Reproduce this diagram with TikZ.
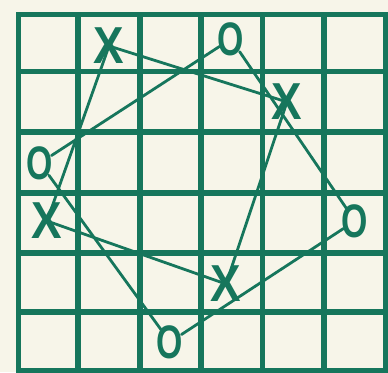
\documentclass[tikz,border=0pt]{standalone}
\usepackage{fontspec}
\usetikzlibrary{shapes.geometric}
\newfontfamily\xmarkfont[FakeStretch=0.88]{Liberation Sans}
\newfontfamily\omarkfont[FakeStretch=0.72]{Liberation Sans}
\definecolor{grn}{RGB}{22,118,92}
\definecolor{paper}{RGB}{247,245,233}
\begin{document}
\begin{tikzpicture}[x=1pt,y=-1pt,
  gridline/.style={draw=grn, line width=5.5pt, line cap=rect},
  link/.style={draw=grn, line width=2.8pt, line cap=round},
  xmark/.style={text=grn, inner sep=0pt, font=\xmarkfont\bfseries\fontsize{52}{52}\selectfont},
  omark/.style={ellipse, inner sep=0pt, minimum width=25pt, minimum height=34pt,
    label={[text=grn, inner sep=0pt, font=\omarkfont\bfseries\fontsize{47}{47}\selectfont]center:O}}]
\fill[paper] (0,0) rectangle (388,372);
\useasboundingbox (0,0) rectangle (388,372);
% grid
\foreach \gx in {18.5,78,140,201,262.5,324,386}
  \draw[gridline] (\gx,14.5) -- (\gx,371);
\foreach \gy in {14.5,71.5,132,193,253,312,371}
  \draw[gridline] (18.5,\gy) -- (386,\gy);
% marks
\node[xmark] (x1) at (109,46) {X};
\node[xmark] (x2) at (287,102) {X};
\node[xmark] (x3) at (47,221) {X};
\node[xmark] (x4) at (226,284) {X};
\node[omark] (o1) at (231,39) {};
\node[omark] (o2) at (40,163) {};
\node[omark] (o3) at (355,221) {};
\node[omark] (o4) at (170,342) {};
% connectors
\draw[link] (x1.center) -- (x2.center);
\draw[link] (x2.center) -- (x4.center);
\draw[link] (x4.center) -- (x3.center);
\draw[link] (x3.center) -- (x1.center);
\draw[link] (o1) -- (o3);
\draw[link] (o3) -- (o4);
\draw[link] (o4) -- (o2);
\draw[link] (o2) -- (o1);
\end{tikzpicture}
\end{document}
